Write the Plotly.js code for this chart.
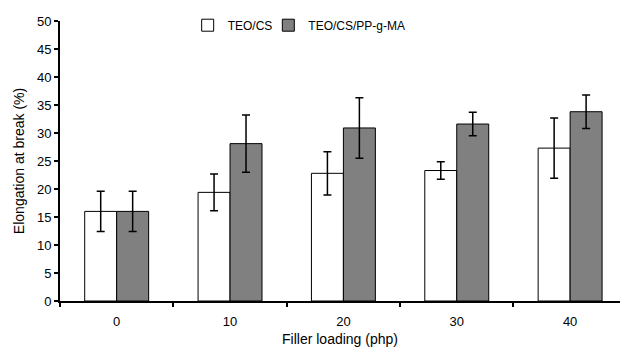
<!DOCTYPE html>
<html><head><meta charset="utf-8">
<script src="https://cdn.plot.ly/plotly-3.0.1.min.js"></script>
<style>html,body{margin:0;padding:0;background:#fff}#chart{width:620px;height:347px}</style>
</head><body><div id="chart"></div>
<script>
const categories = ["0", "10", "20", "30", "40"];
const teoCs = [16.0, 19.4, 22.8, 23.3, 27.3];
const teoCsErr = [3.6, 3.3, 3.85, 1.55, 5.4];
const teoCsPp = [16.0, 28.1, 30.9, 31.6, 33.8];
const teoCsPpErr = [3.6, 5.1, 5.4, 2.1, 3.0];
const seriesNames = ["TEO/CS", "TEO/CS/PP-g-MA"];

const fam = "Liberation Sans, Arial, sans-serif";
const tickFont = {family: fam, size: 13, color: "#000"};
const titleFont = {family: fam, size: 14, color: "#000"};
const legendFont = {family: fam, size: 12, color: "#000"};
const traces = [
  {type: "bar", name: seriesNames[0], x: categories, y: teoCs, legend: "legend",
   marker: {color: "#ffffff", line: {color: "#000", width: 1}},
   error_y: {type: "data", array: teoCsErr, visible: true, color: "#000", thickness: 1.5, width: 4}},
  {type: "bar", name: seriesNames[1], x: categories, y: teoCsPp, legend: "legend2",
   marker: {color: "#808080", line: {color: "#000", width: 1}},
   error_y: {type: "data", array: teoCsPpErr, visible: true, color: "#000", thickness: 1.5, width: 4}}
];
const legendBase = {orientation: "h", xanchor: "left", y: 0.985, yanchor: "middle",
                    font: legendFont, bgcolor: "rgba(0,0,0,0)", itemwidth: 30};
const layout = {
  width: 620, height: 347,
  margin: {l: 60, r: 0, t: 21, b: 46},
  paper_bgcolor: "#fff", plot_bgcolor: "#fff",
  font: tickFont,
  barmode: "group", bargap: 0.436, bargroupgap: 0,
  showlegend: true,
  legend: Object.assign({}, legendBase, {x: 0.228}),
  legend2: Object.assign({}, legendBase, {x: 0.372}),
  xaxis: {type: "category", range: [-0.5, 4.44], showline: true, linecolor: "#000", linewidth: 2,
          ticks: "outside", tickson: "boundaries", ticklen: 4, tickwidth: 2, tickcolor: "#000",
          showgrid: false, zeroline: false, ticklabelstandoff: 7, tickfont: tickFont,
          title: {text: "Filler loading (php)", font: titleFont, standoff: 7}},
  yaxis: {range: [0, 50], dtick: 5, showline: true, linecolor: "#000", linewidth: 2,
          ticks: "outside", ticklen: 4, tickwidth: 1.5, tickcolor: "#000",
          showgrid: false, zeroline: false, tickfont: tickFont,
          title: {text: "Elongation at break (%)", font: titleFont, standoff: 9}}
};
Plotly.newPlot("chart", traces, layout, {displayModeBar: false, staticPlot: true});
</script></body></html>
